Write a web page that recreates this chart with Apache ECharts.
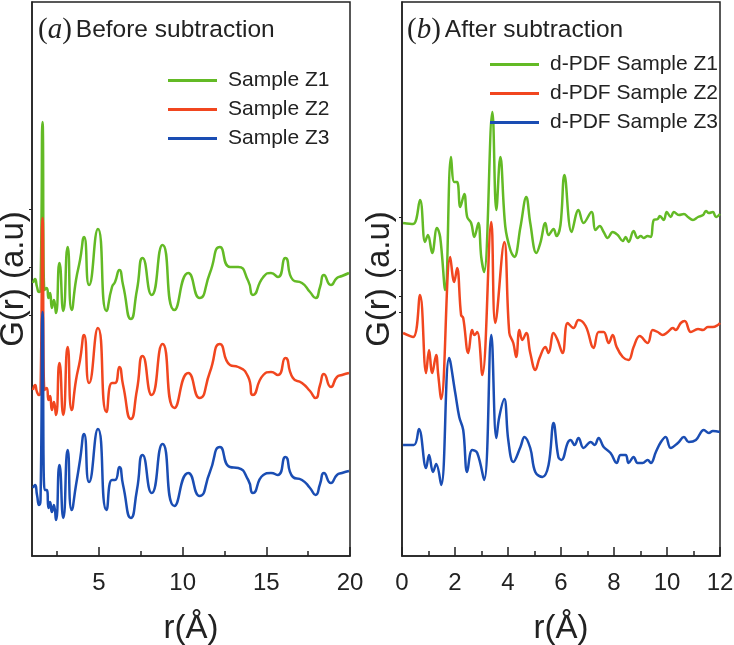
<!DOCTYPE html>
<html>
<head>
<meta charset="utf-8">
<script src="https://cdn.jsdelivr.net/npm/echarts@6/dist/echarts.min.js"></script>
<style>
  html, body { margin: 0; padding: 0; background: #fff; }
  #chart { width: 734px; height: 645px; }
</style>
</head>
<body>
<div id="chart"></div>
<script>
// (a) before subtraction: r grid shared by the 3 samples, G(r) stacked (a.u.)
const rA = [1.06, 1.18, 1.30, 1.42, 1.51, 1.63, 1.75, 1.88, 1.99, 2.08, 2.19, 2.31, 2.43, 2.64, 2.87, 3.13, 3.37, 3.63, 3.87, 4.11,
  4.41, 4.94, 5.45, 5.78, 5.96, 6.22, 6.44, 6.91, 7.27, 7.61, 8.15, 8.80, 9.51, 10.34, 11.01, 11.63, 12.23, 12.83, 13.32, 13.92,
  14.20, 14.82, 15.28, 15.69, 16.14, 16.59, 17.13, 17.61, 17.94, 18.21, 18.44, 18.86, 19.22, 19.52, 19.94]
const gZ1 = [273, 277, 269, 264, 266, 434, 266, 268, 258, 263, 248, 256, 243, 293, 245, 309, 246, 276, 296, 319,
  271, 327, 245, 269, 274, 286, 271, 237, 266, 298, 261, 311, 246, 283, 258, 283, 309, 289, 289, 275,
  261, 279, 283, 279, 298, 276, 273, 264, 258, 269, 281, 271, 278, 280, 283]
const gZ2 = [166, 171, 164, 161, 164, 338, 166, 168, 156, 160, 146, 154, 141, 193, 141, 209, 146, 176, 196, 221,
  173, 228, 144, 173, 173, 189, 171, 137, 166, 200, 161, 212, 148, 183, 158, 184, 212, 191, 189, 179,
  161, 181, 184, 181, 198, 178, 173, 165, 158, 171, 182, 169, 179, 181, 183]
const gZ3 = [68, 71, 61, 51, 56, 244, 66, 66, 48, 54, 44, 51, 36, 91, 38, 106, 46, 71, 96, 122,
  74, 127, 46, 76, 76, 89, 71, 38, 66, 101, 63, 112, 50, 83, 60, 84, 109, 89, 88, 76,
  63, 81, 83, 81, 99, 79, 76, 68, 61, 72, 83, 73, 81, 83, 85]

// (b) after subtraction: [r, G(r)] pairs
const dZ1 = [[0.04, 333], [0.42, 332], [0.68, 356], [0.87, 314], [0.98, 321], [1.14, 303], [1.32, 328], [1.44, 319], [1.63, 266],
  [1.85, 399], [1.97, 374], [2.08, 374], [2.20, 349], [2.35, 362], [2.46, 339], [2.61, 333], [2.73, 319], [2.88, 333], [2.99, 299],
  [3.10, 284], [3.41, 444], [3.56, 346], [3.71, 399], [3.90, 329], [4.09, 306], [4.24, 299], [4.47, 329], [4.69, 359], [4.84, 333],
  [5.07, 303], [5.22, 313], [5.41, 333], [5.53, 321], [5.72, 327], [5.83, 320], [5.98, 331], [6.13, 381], [6.40, 324], [6.66, 346],
  [6.85, 333], [7.15, 344], [7.30, 326], [7.46, 330], [7.61, 324], [7.76, 318], [7.95, 324], [8.14, 321], [8.33, 315], [8.44, 319],
  [8.55, 314], [8.74, 325], [8.89, 318], [9.01, 320], [9.12, 318], [9.27, 320], [9.39, 319], [9.50, 336], [9.65, 337], [9.73, 340],
  [9.88, 336], [9.99, 344], [10.14, 339], [10.26, 344], [10.45, 341], [10.64, 342], [10.79, 339], [10.98, 336], [11.17, 339],
  [11.36, 341], [11.47, 345], [11.58, 343], [11.73, 344], [11.85, 339], [12.0, 342]]
const dZ2 = [[0.04, 223], [0.42, 219], [0.68, 261], [0.91, 183], [1.02, 206], [1.14, 183], [1.29, 201], [1.36, 183], [1.48, 157],
  [1.82, 299], [1.97, 274], [2.08, 288], [2.23, 241], [2.31, 238], [2.50, 203], [2.65, 226], [2.73, 221], [2.84, 224], [3.03, 181],
  [3.37, 334], [3.52, 233], [3.86, 314], [4.05, 223], [4.20, 213], [4.31, 199], [4.43, 226], [4.54, 216], [4.69, 223], [4.84, 203],
  [5.03, 186], [5.19, 198], [5.41, 209], [5.53, 203], [5.72, 223], [5.87, 216], [6.06, 203], [6.25, 233], [6.47, 228], [6.66, 236],
  [6.93, 230], [7.23, 208], [7.42, 224], [7.61, 224], [7.80, 213], [7.95, 221], [8.10, 209], [8.33, 199], [8.55, 196], [8.74, 209],
  [8.97, 220], [9.27, 213], [9.46, 226], [9.65, 224], [9.84, 221], [10.03, 224], [10.22, 228], [10.33, 226], [10.52, 233],
  [10.67, 235], [10.90, 224], [11.17, 227], [11.36, 226], [11.54, 229], [11.73, 229], [11.92, 231], [12.0, 233]]
const dZ3 = [[0.04, 111], [0.45, 111], [0.64, 127], [0.91, 88], [1.02, 101], [1.17, 84], [1.29, 92], [1.48, 71], [1.78, 198],
  [2.01, 163], [2.16, 139], [2.31, 126], [2.46, 84], [2.65, 106], [2.84, 103], [3.10, 76], [3.37, 221], [3.56, 118], [3.67, 139],
  [3.86, 157], [4.01, 116], [4.20, 94], [4.47, 109], [4.62, 119], [4.84, 108], [5.03, 84], [5.30, 79], [5.53, 91], [5.72, 133],
  [5.90, 99], [6.02, 96], [6.25, 113], [6.36, 116], [6.51, 111], [6.66, 118], [6.85, 108], [7.12, 114], [7.27, 111], [7.42, 118],
  [7.61, 109], [7.87, 103], [8.10, 93], [8.25, 101], [8.44, 101], [8.55, 93], [8.74, 99], [8.89, 93], [9.08, 93], [9.27, 96],
  [9.39, 93], [9.58, 104], [9.77, 114], [9.95, 119], [10.14, 108], [10.41, 113], [10.64, 119], [10.82, 114], [11.09, 116],
  [11.39, 126], [11.58, 123], [11.73, 125], [12.0, 124]]

const namesA = ['Sample Z1', 'Sample Z2', 'Sample Z3']
const namesB = ['d-PDF Sample Z1', 'd-PDF Sample Z2', 'd-PDF Sample Z3']
const ticksA = [5, 10, 15, 20]
const minorA = [2.5, 7.5, 12.5, 17.5]
const yTicksA = [241, 261, 289, 347]
const yTicksB = [244, 260, 286, 339]
const colors = ['#63ba25', '#f1461f', '#1a4db3']

const font = 'Liberation Sans, Arial, sans-serif'
const ink = '#222'
const axisLine = { show: true, lineStyle: { color: ink, width: 1.5 } }

function xAx (grid, min, max, extra) {
  return Object.assign({
    type: 'value', gridIndex: grid, min: min, max: max, position: 'bottom',
    splitLine: { show: false },
    axisLine: axisLine,
    axisTick: { inside: true, length: 9, lineStyle: { color: ink, width: 1.5 } },
    axisLabel: { fontSize: 24, color: ink, fontFamily: font, margin: 15 },
    name: 'r(Å)', nameLocation: 'middle', nameGap: 56,
    nameTextStyle: { fontSize: 33, color: ink, fontFamily: font }
  }, extra)
}

function yAx (grid, ticks, gap) {
  return {
    type: 'value', gridIndex: grid, min: 0, max: 554,
    splitLine: { show: false },
    axisLine: axisLine,
    axisTick: { show: true, inside: false, length: 3, customValues: ticks, lineStyle: { color: ink, width: 1 } },
    axisLabel: { show: false },
    name: 'G(r) (a.u)', nameLocation: 'middle', nameGap: gap,
    nameTextStyle: { fontSize: 33, color: ink, fontFamily: font }
  }
}

function titleRich () {
  return {
    p: { fontFamily: 'Liberation Serif, serif', fontSize: 29, fontWeight: 'normal', color: ink },
    a: { fontFamily: 'Liberation Serif, serif', fontSize: 29, fontStyle: 'italic', fontWeight: 'normal', color: ink },
    t: { fontFamily: font, fontSize: 24.5, fontWeight: 'normal', color: ink, padding: [0, 0, 0, 4] }
  }
}

const seriesA = [gZ1, gZ2, gZ3].map((g, i) => ({
  name: namesA[i], type: 'line', xAxisIndex: 0, yAxisIndex: 0,
  data: rA.map((r, k) => [r, g[k]]),
  symbol: 'none', smooth: 0.6,
  lineStyle: { color: colors[i], width: 2.5 }, itemStyle: { color: colors[i] }
}))

const seriesB = [dZ1, dZ2, dZ3].map((d, i) => ({
  name: namesB[i], type: 'line', xAxisIndex: 2, yAxisIndex: 1,
  data: d,
  symbol: 'none', smooth: 0.4,
  lineStyle: { color: colors[i], width: 2.5 }, itemStyle: { color: colors[i] }
}))

const legendBase = {
  orient: 'vertical', icon: 'rect', itemWidth: 49, itemHeight: 3, itemGap: 8,
  selectedMode: false,
  textStyle: { fontSize: 21, color: ink, fontFamily: font, padding: [0, 0, 0, 6] }
}

const gridBase = { top: 2, bottom: 89, show: true, borderColor: ink, borderWidth: 1.5, containLabel: false, outerBoundsMode: 'none' }

const option = {
  backgroundColor: '#fff',
  animation: false,
  title: [
    { text: '{p|(}{a|a}{p|)}{t|Before subtraction}', left: 33, top: 11, textStyle: { fontWeight: 'normal', rich: titleRich() } },
    { text: '{p|(}{a|b}{p|)}{t|After subtraction}', left: 402, top: 11, textStyle: { fontWeight: 'normal', rich: titleRich() } }
  ],
  legend: [
    Object.assign({}, legendBase, { data: namesA, left: 163, top: 65 }),
    Object.assign({}, legendBase, { data: namesB, left: 485, top: 49 })
  ],
  grid: [
    Object.assign({ left: 32, right: 384 }, gridBase),
    Object.assign({ left: 402, right: 14 }, gridBase)
  ],
  xAxis: [
    xAx(0, 1, 20, {
      axisTick: { inside: true, length: 9, customValues: ticksA, lineStyle: { color: ink, width: 1.5 } },
      axisLabel: { fontSize: 24, color: ink, fontFamily: font, margin: 15, customValues: ticksA }
    }),
    xAx(0, 1, 20, {
      name: '', axisLine: { show: false },
      axisTick: { inside: true, length: 5, customValues: minorA, lineStyle: { color: ink, width: 1.5 } },
      axisLabel: { show: false }
    }),
    xAx(1, 0, 12, {
      interval: 2,
      minorTick: { show: true, splitNumber: 2, length: 5, lineStyle: { color: ink, width: 1.5 } }
    })
  ],
  yAxis: [yAx(0, yTicksA, 2), yAx(1, yTicksB, 6)],
  series: seriesA.concat(seriesB)
}

echarts.init(document.getElementById('chart')).setOption(option)
</script>
</body>
</html>
